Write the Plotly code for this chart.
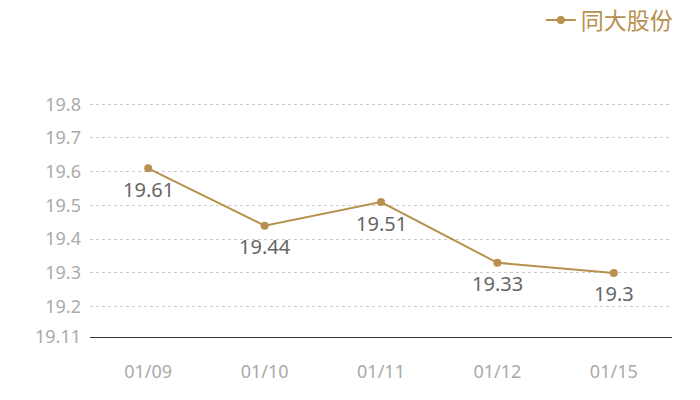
import plotly.graph_objects as go

dates = ["01/09", "01/10", "01/11", "01/12", "01/15"]
prices = [19.61, 19.44, 19.51, 19.33, 19.3]
series_name = "同大股份"
y_ticks = [19.11, 19.2, 19.3, 19.4, 19.5, 19.6, 19.7, 19.8, 19.81]
y_tick_text = ["19.11", "19.2", "19.3", "19.4", "19.5", "19.6", "19.7", "19.8", ""]

gold = "#b8914f"
font_family = "Noto Sans, Noto Sans CJK SC, sans-serif"
cjk_family = "Noto Sans CJK SC, sans-serif"

xs = list(range(len(dates)))

fig = go.Figure()
fig.add_trace(go.Scatter(
    x=xs, y=prices, name=series_name,
    mode="lines+markers",
    line=dict(color=gold, width=2),
    marker=dict(color=gold, size=8),
    cliponaxis=False,
))

for xi, v in zip(xs, prices):
    fig.add_annotation(
        x=xi, y=v, text=str(v), showarrow=False,
        yshift=-21, xanchor="center", yanchor="middle",
        font=dict(color="#666666", size=20, family=font_family),
    )

fig.update_layout(
    width=700, height=400,
    margin=dict(l=90, r=28, t=100, b=63, autoexpand=False),
    paper_bgcolor="white", plot_bgcolor="white",
    font=dict(family=font_family),
    showlegend=True,
    legend=dict(
        x=1.01, xanchor="right", y=0.95, yanchor="middle",
        yref="container", xref="paper",
        font=dict(color=gold, size=23, family=cjk_family),
        bgcolor="rgba(0,0,0,0)", itemwidth=30,
    ),
    xaxis=dict(
        range=[-0.5, len(dates) - 0.5],
        tickvals=xs, ticktext=dates,
        showgrid=False, zeroline=False,
        showline=True, linecolor="#333333", linewidth=1,
        ticks="", ticklabelstandoff=18,
        tickfont=dict(color="#aaaaaa", size=18, family=font_family),
    ),
    yaxis=dict(
        range=[19.11, 19.8125],
        tickvals=y_ticks, ticktext=y_tick_text,
        showgrid=True, gridcolor="#cccccc", griddash="dot", gridwidth=1,
        zeroline=False, showline=False, ticks="", ticklabelstandoff=8,
        tickfont=dict(color="#aaaaaa", size=18, family=font_family),
    ),
)

fig.write_html("out.html", config={"displayModeBar": False},
               post_script="document.body.style.margin='0';")
